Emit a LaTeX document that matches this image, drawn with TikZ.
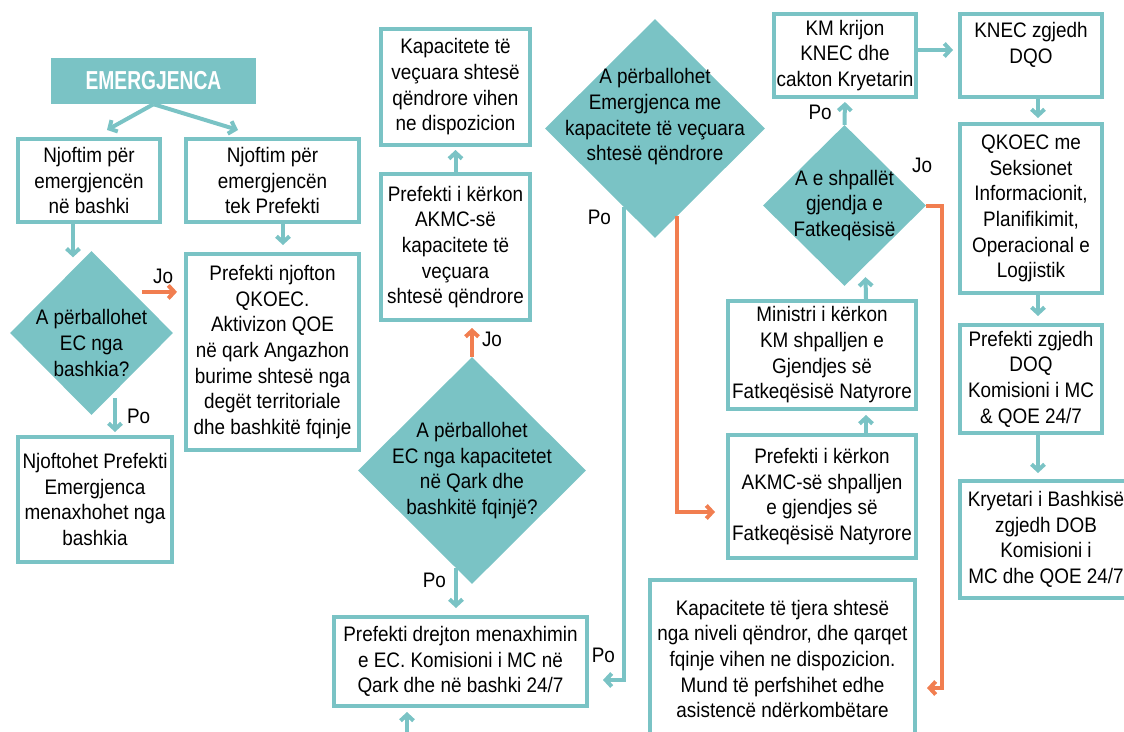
\documentclass[tikz,border=0pt]{standalone}
\usepackage{fontspec}
\setmainfont{Liberation Sans}[FakeStretch=0.9]
\newfontfamily\titlefont{Liberation Sans}[FakeStretch=0.74]
\usetikzlibrary{shapes.geometric,arrows.meta}
\definecolor{tealc}{RGB}{122,195,197}
\definecolor{orangec}{RGB}{241,126,80}
\begin{document}
\begin{tikzpicture}[x=1pt,y=-1pt,
                every node/.style={font=\fontsize{21}{25.7}\selectfont},
                box/.style={draw=tealc,line width=4pt,fill=white,align=center,inner sep=0pt},
                dia/.style={diamond,fill=tealc,inner sep=0pt},
                diatxt/.style={align=center,inner sep=0pt},
                link/.style={draw=tealc,line width=4pt,-{Straight Barb[length=6pt,width=13pt]}},
                jolink/.style={link,draw=orangec},
                lbl/.style={inner sep=2pt}]
                \useasboundingbox (0,0) rectangle (1124,731);
                \node[fill=tealc,text=white,minimum width=205pt,minimum height=46pt,inner sep=0pt,font=\titlefont\bfseries\fontsize{26}{30}\selectfont] (emerg) at (153.5,81) {EMERGJENCA};
                \node[box,minimum width=142pt,minimum height=83pt] (bashki) at (89,180.5) {Njoftim për\\emergjencën\\në bashki};
                \node[box,minimum width=173pt,minimum height=83pt] (prefekt) at (272.5,180.5) {Njoftim për\\emergjencën\\tek Prefekti};
                \node[dia,minimum width=163pt,minimum height=164pt] (d1) at (91.5,333) {};
                \node[diatxt] (d1t) at ([shift={(0,10)}]d1.center) {A përballohet\\EC nga\\bashkia?};
                \node[box,minimum width=173pt,minimum height=196pt] (njofton) at (272.5,352) {Prefekti njofton\\QKOEC.\\Aktivizon QOE\\në qark Angazhon\\burime shtesë nga\\degët territoriale\\dhe bashkitë fqinje};
                \node[box,minimum width=154pt,minimum height=125pt] (menaxh) at (95,499.5) {Njoftohet Prefekti\\Emergjenca\\menaxhohet nga\\bashkia};
                \node[box,minimum width=149pt,minimum height=116pt] (kapvec) at (455.5,87) {Kapacitete të\\veçuara shtesë\\qëndrore vihen\\ne dispozicion};
                \node[box,minimum width=149pt,minimum height=146pt] (kerkon) at (455.5,247) {Prefekti i kërkon\\AKMC-së\\kapacitete të\\veçuara\\shtesë qëndrore};
                \node[dia,minimum width=228pt,minimum height=227pt] (d2) at (472,470.5) {};
                \node[diatxt] (d2t) at (d2.center) {A përballohet\\EC nga kapacitetet\\në Qark dhe\\bashkitë fqinjë?};
                \node[box,minimum width=253pt,minimum height=89pt] (drejton) at (460.5,661.5) {Prefekti drejton menaxhimin\\e EC. Komisioni i MC në\\Qark dhe në bashki 24/7};
                \node[dia,minimum width=220pt,minimum height=219pt] (d3) at (655,128.5) {};
                \node[diatxt] (d3t) at ([shift={(0,-11.5)}]d3.center) {A përballohet\\Emergjenca me\\kapacitete të veçuara\\shtesë qëndrore};
                \node[dia,minimum width=163pt,minimum height=161pt] (d4) at (844.5,205.5) {};
                \node[diatxt] (d4t) at (d4.center) {A e shpallët\\gjendja e\\Fatkeqësisë};
                \node[box,minimum width=142pt,minimum height=83pt] (kmkrijon) at (845,55.5) {KM krijon\\KNEC dhe\\cakton Kryetarin};
                \node[box,minimum width=142pt,minimum height=83pt] (knec) at (1031,55.5) {KNEC zgjedh\\DQO\\\mbox{}};
                \node[box,minimum width=142pt,minimum height=169pt] (qkoec) at (1031,208.5) {QKOEC me\\Seksionet\\Informacionit,\\Planifikimit,\\Operacional e\\Logjistik};
                \node[box,minimum width=188pt,minimum height=108pt] (ministri) at (822,355) {Ministri i kërkon\\KM shpalljen e\\Gjendjes së\\Fatkeqësisë Natyrore};
                \node[box,minimum width=188pt,minimum height=123pt] (akmc) at (822,496.5) {Prefekti i kërkon\\AKMC-së shpalljen\\e gjendjes së\\Fatkeqësisë Natyrore};
                \node[box,minimum width=265pt,minimum height=158pt] (tjera) at (782.5,659) {Kapacitete të tjera shtesë\\nga niveli qëndror, dhe qarqet\\fqinje vihen ne dispozicion.\\Mund të perfshihet edhe\\asistencë ndërkombëtare};
                \node[box,minimum width=142pt,minimum height=108pt] (doq) at (1031,379) {Prefekti zgjedh\\DOQ\\Komisioni i MC\\\& QOE 24/7};
                \node[box,minimum width=172pt,minimum height=117pt] (kryetari) at (1046,539.5) {Kryetari i Bashkisë\\zgjedh DOB\\Komisioni i\\MC dhe QOE 24/7};
                \draw[link] (emerg.south) -- ([shift={(18,-7)}]bashki.north);
                \draw[link] (emerg.south) -- ([shift={(-34.5,-7)}]prefekt.north);
                \draw[link] ([shift={(-16,0)}]bashki.south) -- ([shift={(-18.5,6.5)}]d1.north);
                \draw[link] ([shift={(10.5,0)}]prefekt.south) -- ([shift={(10.5,-7)}]njofton.north);
                \coordinate (j1) at ([shift={(10,0)}]d1.north east);
                \draw[jolink,shorten >=7pt] (j1) -- (j1 -| njofton.west) node[lbl,midway,above=4pt] (jo1) {Jo};
                \coordinate (p1) at ([shift={(23.5,65)}]d1.center);
                \draw[link,shorten >=3pt] (p1) -- (p1 |- menaxh.north) node[lbl,midway,right=8pt] (po1) {Po};
                \draw[link,shorten >=3pt] (kerkon.north) -- (kapvec.south);
                \draw[jolink,shorten >=6pt] (d2.north) -- (d2.north |- kerkon.south) node[lbl,midway,right=6pt] (jo2) {Jo};
                \coordinate (p2) at ([shift={(-16,-16)}]d2.south);
                \draw[link,shorten >=7pt] (p2) -- (p2 |- drejton.north) node[lbl,pos=.25,left=6pt] (po2) {Po};
                \coordinate (p3) at ([shift={(-31,-31)}]d3.south);
                \draw[link,shorten >=14pt] (p3) |- ([shift={(0,18.5)}]drejton.east) node[lbl,pos=.011,left=9pt] (po3) {Po} node[lbl,pos=.474,left=5pt] (po4) {Po};
                \coordinate (j3) at ([shift={(22,-22)}]d3.south);
                \draw[jolink,shorten >=11pt] (j3) |- ([shift={(0,15.5)}]akmc.west);
                \draw[link,shorten >=4pt] ([shift={(44,0)}]akmc.north) -- ([shift={(44,0)}]ministri.south);
                \draw[link] ([shift={(44,0)}]ministri.north) -- ([shift={(21,-9)}]d4.south);
                \draw[link,shorten >=3pt] (d4.north) -- (kmkrijon.south) node[lbl,midway,left=9pt] (po5) {Po};
                \draw[link,shorten >=5pt] ([shift={(0,-5.5)}]kmkrijon.east) -- ([shift={(0,-5.5)}]knec.west);
                \draw[link,shorten >=4pt] ([shift={(7,0)}]knec.south) -- ([shift={(7,0)}]qkoec.north);
                \draw[link,shorten >=7pt] ([shift={(7,0)}]qkoec.south) -- ([shift={(7,0)}]doq.north);
                \draw[link,shorten >=6pt] ([shift={(7,0)}]doq.south) -- ([shift={(-8,0)}]kryetari.north);
                \coordinate (j4) at ([shift={(16,0)}]d4.east);
                \draw[jolink,shorten >=10pt] (d4.east) -- (j4) |- ([shift={(0,29)}]tjera.east);
                \node[lbl] (jo4) at ([shift={(-4,-40)}]d4.east) {Jo};
                \coordinate (in) at ([shift={(-53.5,40)}]drejton.south);
                \draw[link,shorten >=4pt] (in) -- (in |- drejton.south);
            \end{tikzpicture}
\end{document}
